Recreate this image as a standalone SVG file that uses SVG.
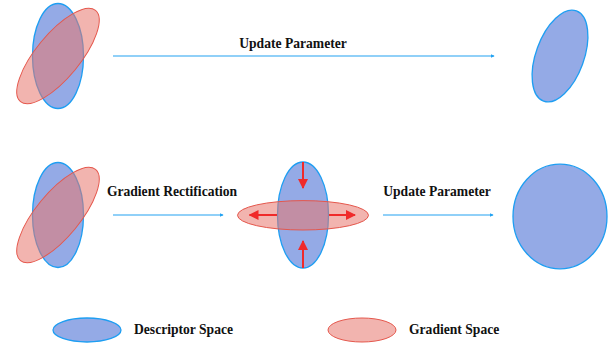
<svg xmlns="http://www.w3.org/2000/svg" width="613" height="343" viewBox="0 0 613 343">
<defs>
<style>
.desc{fill:#94aae6;stroke:#1e9ef2;stroke-width:1.3}
.grad{fill:#e8776d;fill-opacity:0.55;stroke:#e5574c;stroke-width:1}
.conn{stroke:#22a2f2;stroke-width:1.2;fill:none;marker-end:url(#ah)}
.red{stroke:#f02a2a;stroke-width:2;fill:none;marker-end:url(#rh)}
text{font-family:"Liberation Serif","Times New Roman",serif;font-weight:bold;font-size:13.6px;fill:#111}
</style>
<marker id="ah" viewBox="0 0 6 6" refX="5" refY="3" markerWidth="4" markerHeight="4" orient="auto" markerUnits="userSpaceOnUse">
<path d="M0,0 L6,3 L0,6 z" fill="#22a2f2"/>
</marker>
<marker id="rh" viewBox="0 0 10 10" refX="9" refY="5" markerWidth="10" markerHeight="10" orient="auto" markerUnits="userSpaceOnUse">
<path d="M0,0 L10,5 L0,10 z" fill="#f02a2a"/>
</marker>
</defs>
<g id="top-left">
<ellipse class="desc" cx="58" cy="56" rx="25.5" ry="52.5"/>
<ellipse class="grad" cx="58" cy="56" rx="59" ry="22" transform="rotate(-50.5 58 56)"/>
</g>
<g id="top-right">
<ellipse class="desc" cx="560" cy="56" rx="24" ry="48" transform="rotate(20 560 56)"/>
</g>
<g id="bottom-left">
<ellipse class="desc" cx="58" cy="215" rx="25.5" ry="52.5"/>
<ellipse class="grad" cx="58" cy="215" rx="59" ry="22" transform="rotate(-50.5 58 215)"/>
</g>
<g id="middle">
<ellipse class="desc" cx="303" cy="215" rx="25.5" ry="53"/>
<ellipse class="grad" cx="303" cy="215.3" rx="65.5" ry="14.7"/>
<line class="red" x1="303" y1="162" x2="303" y2="188"/>
<line class="red" x1="303" y1="268" x2="303" y2="241"/>
<line class="red" x1="277" y1="215" x2="249.5" y2="215"/>
<line class="red" x1="329" y1="215" x2="355" y2="215"/>
</g>
<g id="bottom-right">
<ellipse class="desc" cx="560" cy="216.5" rx="47" ry="52.3"/>
</g>
<g id="legend-descriptor">
<ellipse class="desc" cx="87" cy="330" rx="34" ry="12"/>
<text x="134" y="334">Descriptor Space</text>
</g>
<g id="legend-gradient">
<ellipse class="grad" cx="362" cy="330" rx="34" ry="12"/>
<text x="409" y="334">Gradient Space</text>
</g>
<g id="connectors">
<line class="conn" x1="113" y1="56" x2="494" y2="56"/>
<line class="conn" x1="113" y1="215" x2="223" y2="215"/>
<line class="conn" x1="383" y1="215" x2="493" y2="215"/>
</g>
<g id="labels">
<text x="293" y="48" text-anchor="middle">Update Parameter</text>
<text x="172" y="196" text-anchor="middle">Gradient Rectification</text>
<text x="437" y="196" text-anchor="middle">Update Parameter</text>
</g>
</svg>
